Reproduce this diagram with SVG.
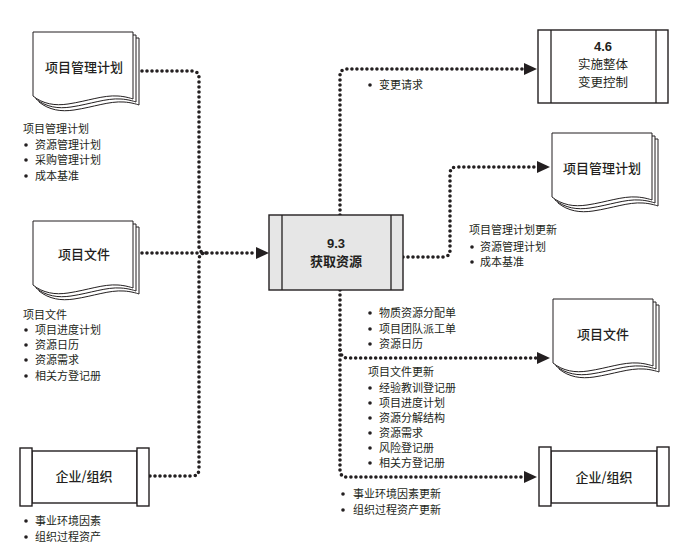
<svg xmlns="http://www.w3.org/2000/svg" width="699" height="558" viewBox="0 0 699 558">
<style>
  .bg{fill:#ffffff}
  .ln{fill:none;stroke:#231f20;stroke-width:1.3}
  .pg{fill:#ffffff;stroke:#231f20;stroke-width:1}
  .box{fill:#ffffff;stroke:#231f20;stroke-width:1.4}
  .proc{fill:#e6e6e6;stroke:#231f20;stroke-width:1.4}
  .dot{fill:none;stroke:#231f20;stroke-width:3.6;stroke-linecap:round;stroke-dasharray:0 5}
  text{font-family:"Noto Sans CJK SC","Noto Sans",sans-serif;fill:#231f20}
  .t{font-size:13px;font-weight:500;text-anchor:middle}
  .tb{font-size:13px;font-weight:700;text-anchor:middle}
  .num{font-family:"Liberation Sans",Arial,sans-serif;font-size:13px;font-weight:700;text-anchor:middle}
  .tr{font-size:12.5px;font-weight:400;text-anchor:middle}
  .l{font-size:11px}
  .b{fill:#231f20}
</style>
<defs>
  <marker id="arr" markerUnits="userSpaceOnUse" markerWidth="13" markerHeight="12" refX="0" refY="6" orient="auto">
    <path d="M0,0 L13,6 L0,12 Z" fill="#231f20"/>
  </marker>
  <path id="page" d="M0,64 C10,72 22,74 35,72 C55,69 70,63 85,64 C92,64.5 97,66 100,67 V0 H0 Z"/>
  <g id="doc">
    <use href="#page" class="pg" transform="translate(6,6)"/>
    <use href="#page" class="pg" transform="translate(3,3)"/>
    <use href="#page" class="pg"/>
  </g>
</defs>
<rect class="bg" x="0" y="0" width="699" height="558"/>

<g id="connectors">
  <path class="dot" d="M142,71 H192 Q199,71 199,78 V246 Q199,253 206,253"/>
  <path class="dot" d="M150,476 H192 Q199,476 199,469 V260 Q199,253 206,253"/>
  <path class="dot" d="M142,253 H256" marker-end="url(#arr)"/>
  <path class="dot" d="M340,215 V76 Q340,69 347,69 H524" marker-end="url(#arr)"/>
  <path class="dot" d="M403,257 H443 Q450,257 450,250 V174 Q450,167 457,167 H537" marker-end="url(#arr)"/>
  <path class="dot" d="M340,290 V470 Q340,477 347,477 H524" marker-end="url(#arr)"/>
  <path class="dot" d="M340,350 Q341,358 348,358 H537" marker-end="url(#arr)"/>
</g>

<g id="in-pmp">
  <use href="#doc" transform="translate(33,32)"/>
  <text class="t" x="84" y="72">项目管理计划</text>
  <text class="l" x="23" y="133">项目管理计划</text>
  <circle class="b" cx="26" cy="145" r="1.8"/><text class="l" x="35" y="149">资源管理计划</text>
  <circle class="b" cx="26" cy="160" r="1.8"/><text class="l" x="35" y="164">采购管理计划</text>
  <circle class="b" cx="26" cy="176" r="1.8"/><text class="l" x="35" y="180">成本基准</text>
</g>

<g id="in-docs">
  <use href="#doc" transform="translate(33,221)"/>
  <text class="t" x="84" y="259">项目文件</text>
  <text class="l" x="23" y="319">项目文件</text>
  <circle class="b" cx="26" cy="330" r="1.8"/><text class="l" x="35" y="334">项目进度计划</text>
  <circle class="b" cx="26" cy="345" r="1.8"/><text class="l" x="35" y="349">资源日历</text>
  <circle class="b" cx="26" cy="360" r="1.8"/><text class="l" x="35" y="364">资源需求</text>
  <circle class="b" cx="26" cy="376" r="1.8"/><text class="l" x="35" y="380">相关方登记册</text>
</g>

<g id="in-ent">
  <rect class="box" x="32" y="451" width="105" height="52"/>
  <rect class="box" x="20" y="448" width="12" height="58"/>
  <rect class="box" x="137" y="448" width="12" height="58"/>
  <text class="t" x="84" y="481">企业/组织</text>
  <circle class="b" cx="26" cy="521" r="1.8"/><text class="l" x="35" y="525">事业环境因素</text>
  <circle class="b" cx="26" cy="537" r="1.8"/><text class="l" x="35" y="541">组织过程资产</text>
</g>

<g id="proc93">
  <rect class="proc" x="269" y="215" width="134" height="75"/>
  <line class="ln" x1="282" y1="215" x2="282" y2="290"/>
  <line class="ln" x1="391" y1="215" x2="391" y2="290"/>
  <text class="num" x="336" y="248">9.3</text>
  <text class="tb" x="336" y="266">获取资源</text>
</g>

<g id="proc46">
  <rect class="box" x="538" y="30" width="130" height="73"/>
  <line class="ln" x1="551" y1="30" x2="551" y2="103"/>
  <line class="ln" x1="656" y1="30" x2="656" y2="103"/>
  <text class="num" x="603" y="51">4.6</text>
  <text class="tr" x="603" y="69">实施整体</text>
  <text class="tr" x="603" y="87">变更控制</text>
  <circle class="b" cx="370" cy="85" r="1.8"/><text class="l" x="379" y="89">变更请求</text>
</g>

<g id="out-pmp">
  <use href="#doc" transform="translate(552,133)"/>
  <text class="t" x="602" y="173">项目管理计划</text>
  <text class="l" x="469" y="234">项目管理计划更新</text>
  <circle class="b" cx="472" cy="247" r="1.8"/><text class="l" x="480" y="251">资源管理计划</text>
  <circle class="b" cx="472" cy="262" r="1.8"/><text class="l" x="480" y="266">成本基准</text>
</g>

<g id="out-docs">
  <use href="#doc" transform="translate(553,299)"/>
  <text class="t" x="603" y="339">项目文件</text>
  <circle class="b" cx="370" cy="313" r="1.8"/><text class="l" x="379" y="317">物质资源分配单</text>
  <circle class="b" cx="370" cy="329" r="1.8"/><text class="l" x="379" y="333">项目团队派工单</text>
  <circle class="b" cx="370" cy="344" r="1.8"/><text class="l" x="379" y="348">资源日历</text>
  <text class="l" x="368" y="376">项目文件更新</text>
  <circle class="b" cx="370" cy="388" r="1.8"/><text class="l" x="379" y="392">经验教训登记册</text>
  <circle class="b" cx="370" cy="403" r="1.8"/><text class="l" x="379" y="407">项目进度计划</text>
  <circle class="b" cx="370" cy="418" r="1.8"/><text class="l" x="379" y="422">资源分解结构</text>
  <circle class="b" cx="370" cy="433" r="1.8"/><text class="l" x="379" y="437">资源需求</text>
  <circle class="b" cx="370" cy="448" r="1.8"/><text class="l" x="379" y="452">风险登记册</text>
  <circle class="b" cx="370" cy="463" r="1.8"/><text class="l" x="379" y="467">相关方登记册</text>
</g>

<g id="out-ent">
  <rect class="box" x="551" y="451" width="106" height="52"/>
  <rect class="box" x="539" y="447" width="12" height="59"/>
  <rect class="box" x="657" y="447" width="12" height="59"/>
  <text class="t" x="604" y="482">企业/组织</text>
  <circle class="b" cx="343" cy="494" r="1.8"/><text class="l" x="353" y="498">事业环境因素更新</text>
  <circle class="b" cx="343" cy="510" r="1.8"/><text class="l" x="353" y="514">组织过程资产更新</text>
</g>
</svg>
